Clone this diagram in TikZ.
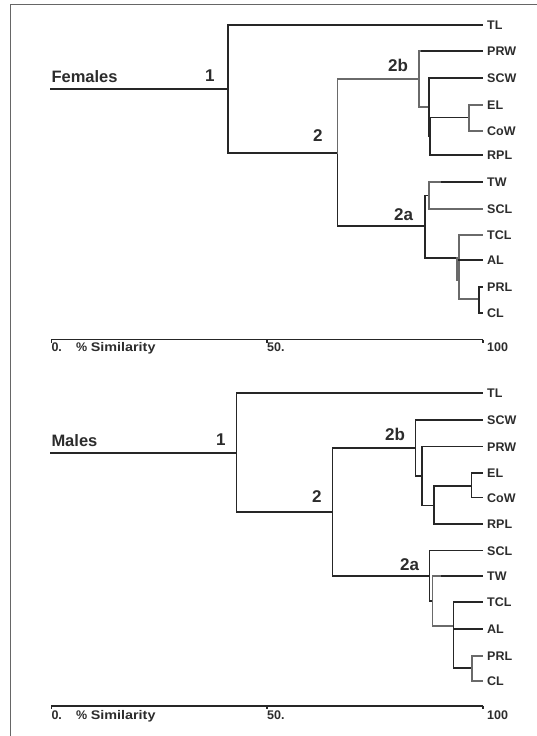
\documentclass[tikz,border=0pt]{standalone}
\usepackage{fontspec}
\setmainfont{Liberation Sans}
\definecolor{ink}{HTML}{262626}
\definecolor{inkgray}{HTML}{6A6A6A}
\definecolor{txt}{HTML}{2C2C2C}
\tikzset{
  br/.style={line width=1.7pt, draw=ink, line cap=rect},
  brg/.style={line width=1.6pt, draw=inkgray, line cap=rect},
  leaf/.style={anchor=west, inner xsep=5pt, inner ysep=0pt, text=txt,
    font=\fontsize{12.5}{12.5}\selectfont\bfseries, text height=9pt, text depth=0pt},
  grp/.style={anchor=base west, inner sep=0pt, text=txt,
    font=\fontsize{16.5}{16.5}\selectfont\bfseries},
  clu/.style={anchor=base west, inner sep=0pt, text=txt,
    font=\fontsize{17}{17}\selectfont\bfseries},
  axl/.style={anchor=base west, inner sep=0pt, text=txt,
    font=\fontsize{12.5}{12.5}\selectfont\bfseries},
  axisline/.style={line width=1.6pt, draw=ink},
  frame/.style={line width=1.6pt, draw=black!60}
}
\newcommand{\simtext}{\%\ \scalebox{1.15}[1]{Similarity}}
\begin{document}
\begin{tikzpicture}[x=1pt,y=-1pt]
\useasboundingbox (0,0) rectangle (537,736);
\draw[frame] (537,4.5) -- (10.3,4.5) -- (10.3,736);

% ================= Females =================
\node[leaf] (fTL)  at (482,25)  {TL};
\node[leaf] (fPRW) at (482,51)  {PRW};
\node[leaf] (fSCW) at (482,78)  {SCW};
\node[leaf] (fEL)  at (482,105) {EL};
\node[leaf] (fCoW) at (482,131) {CoW};
\node[leaf] (fRPL) at (482,155) {RPL};
\node[leaf] (fTW)  at (482,182) {TW};
\node[leaf] (fSCL) at (482,209) {SCL};
\node[leaf] (fTCL) at (482,235) {TCL};
\node[leaf] (fAL)  at (482,260) {AL};
\node[leaf] (fPRL) at (482,287) {PRL};
\node[leaf] (fCL)  at (482,313) {CL};

\coordinate (fr)  at (51.3,89.3);
\coordinate (f1)  at (228,89.3);
\coordinate (f2)  at (337.4,153);
\coordinate (f2b) at (419,79);
\coordinate (fB1) at (429,107);
\coordinate (fC)  at (430,136);
\coordinate (fEC) at (469,117.5);
\coordinate (f2a) at (425,226);
\coordinate (fTS) at (429,195.5);
\coordinate (fLo) at (459,258);
\coordinate (fPC) at (479,299);
\coordinate (fX1) at (457,258);
\coordinate (fX2) at (457,280);

\draw[br] (fr) -- (f1);
\draw[br] (fTL.west) -| (f1) |- (f2);
\draw[br] (f2) |- (f2a);
\draw[brg] (f2) |- (f2b);
\draw[brg] (fPRW.west) -| (f2b) |- (fB1);
\draw[br] (fPRW.west) -- ++(-60,0);
\draw[br] (fSCW.west) -| (fB1) |- (fC);
\draw[br] (fEC) -| (fC) |- (fRPL.west);
\draw[brg] (fEL.west) -| (fEC) |- (fCoW.west);
\draw[br] (fTS) -| (f2a) |- (fLo);
\draw[brg] (fTW.west) -| (fTS) |- (fSCL.west);
\draw[br] (fTW.west) -- ++(-40,0);
\draw[brg] (fTCL.west) -| (fLo) |- (fPC);
\draw[br] (fAL.west) -- (fLo |- fAL.west);
\draw[brg] (fX1) -- (fX2);
\draw[br] (fPRL.west) -| (fPC) |- (fCL.west);

\node[grp] (fG)  at (51.3,82.7)  {Females};
\node[clu] (fN1) at (205,81.7)   {1};
\node[clu] (fN2) at (313,141.7)  {2};
\node[clu] (fN2b) at (388,71.7)  {2b};
\node[clu] (fN2a) at (394,220)   {2a};

\coordinate (fa0)   at (51.3,339.5);
\coordinate (fa50)  at (267,339.5);
\coordinate (fa100) at (482.7,339.5);
\draw[axisline] (fa0) -- (fa100);
\draw[axisline] (fa0) -- ++(0,3);
\draw[axisline] (fa50) -- ++(0,3);
\draw[axisline] (fa100) -- ++(0,3);
\node[axl] (fl0)   at (51.3,351.7) {0.};
\node[axl] (flsim) at (76,351.7)   {\simtext};
\node[axl] (fl50)  at (267,351.7)  {50.};
\node[axl] (fl100) at (487,351.7)  {100};

% ================= Males =================
\node[leaf] (mTL)  at (482,393.3) {TL};
\node[leaf] (mSCW) at (482,420)   {SCW};
\node[leaf] (mPRW) at (482,446.5) {PRW};
\node[leaf] (mEL)  at (482,473)   {EL};
\node[leaf] (mCoW) at (482,497.5) {CoW};
\node[leaf] (mRPL) at (482,524)   {RPL};
\node[leaf] (mSCL) at (482,550.5) {SCL};
\node[leaf] (mTW)  at (482,576)   {TW};
\node[leaf] (mTCL) at (482,602)   {TCL};
\node[leaf] (mAL)  at (482,628.8) {AL};
\node[leaf] (mPRL) at (482,656)   {PRL};
\node[leaf] (mCL)  at (482,681)   {CL};

\coordinate (mr)  at (51.3,452.7);
\coordinate (m1)  at (236.6,452.7);
\coordinate (m2)  at (332.6,511.7);
\coordinate (m2b) at (415.5,447.7);
\coordinate (mB1) at (422,476);
\coordinate (mC)  at (434,505.5);
\coordinate (mEC) at (471.5,486);
\coordinate (m2a) at (429.5,576);
\coordinate (mL2) at (432.5,601);
\coordinate (mLo) at (453.5,626);
\coordinate (mPC) at (472,668);

\draw[br] (mr) -- (m1);
\draw[br] (mTL.west) -| (m1) |- (m2);
\draw[br] (m2b) -| (m2) |- (m2a);
\draw[br] (mSCW.west) -| (m2b) |- (mB1);
\draw[br] (mPRW.west) -| (mB1) |- (mC);
\draw[br] (mEC) -| (mC) |- (mRPL.west);
\draw[br] (mEL.west) -| (mEC) |- (mCoW.west);
\draw[br] (mSCL.west) -| (m2a) |- (mL2);
\draw[brg] (mTW.west) -| (mL2) |- (mLo);
\draw[br] (mTW.west) -- ++(-40,0);
\draw[br] (mTCL.west) -| (mLo) |- (mPC);
\draw[br] (mAL.west) -- (mLo |- mAL.west);
\draw[brg] (mPRL.west) -| (mPC) |- (mCL.west);

\node[grp] (mG)  at (51.3,446)   {Males};
\node[clu] (mN1) at (216,445)    {1};
\node[clu] (mN2) at (312,502.7)  {2};
\node[clu] (mN2b) at (385,440.7) {2b};
\node[clu] (mN2a) at (400,570.7) {2a};

\coordinate (ma0)   at (51.3,705.7);
\coordinate (ma50)  at (267,705.7);
\coordinate (ma100) at (482.7,705.7);
\draw[axisline] (ma0) -- (ma100);
\draw[axisline] (ma0) -- ++(0,3);
\draw[axisline] (ma50) -- ++(0,3);
\draw[axisline] (ma100) -- ++(0,3);
\node[axl] (ml0)   at (51.3,719.3) {0.};
\node[axl] (mlsim) at (76,719.3)   {\simtext};
\node[axl] (ml50)  at (267,719.3)  {50.};
\node[axl] (ml100) at (487,719.3)  {100};
\end{tikzpicture}
\end{document}
